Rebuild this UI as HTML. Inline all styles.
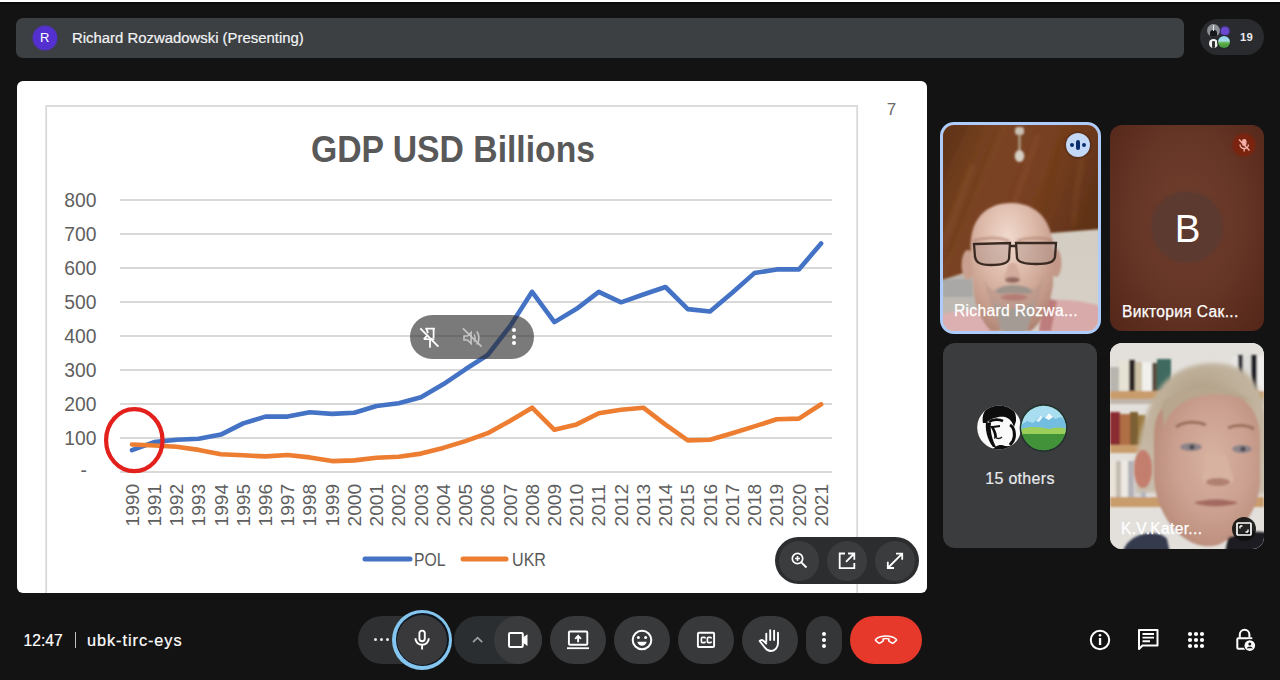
<!DOCTYPE html>
<html><head><meta charset="utf-8">
<style>
*{margin:0;padding:0;box-sizing:border-box}
html,body{width:1280px;height:680px;overflow:hidden;background:#131313;font-family:"Liberation Sans",sans-serif}
.abs{position:absolute}
#topline{left:0;top:0;width:1280px;height:4px;background:linear-gradient(#fdfdfd 0,#fdfdfd 1.6px,#0b0b0b 2.2px,#0b0b0b 3.6px,#131313 4px)}
#hdr{left:16px;top:18px;width:1168px;height:40px;background:#3c4043;border-radius:7px}
#hdr .av{left:16.5px;top:8px;width:24px;height:24px;border-radius:50%;background:#5530d0;box-shadow:0 0 1.5px 0.5px rgba(85,48,208,0.7);color:#fff;font-size:13px;line-height:24px;text-align:center;text-indent:0.5px}
#hdr .t{left:56px;top:11.5px;color:#f1f3f4;font-size:14.9px;white-space:nowrap;-webkit-text-stroke:0.2px #f1f3f4}
#pill{left:1200px;top:19px;width:64px;height:36px;border-radius:18px;background:#2a2b2e}
#pill .n{left:40px;top:11.6px;color:#e8eaed;font-size:11.3px;font-weight:bold;letter-spacing:0.2px}
#slide{left:17px;top:81px;width:910px;height:512px;background:#fff;border-radius:6px;overflow:hidden}
.tile{position:absolute;border-radius:12px;overflow:hidden}
.name{position:absolute;color:#fff;font-size:15.6px;white-space:nowrap;letter-spacing:0.32px;-webkit-text-stroke:0.25px #fff}
.btn{position:absolute;top:616px;height:48px;border-radius:24px;background:#37393b}
.bottomtxt{position:absolute;color:#fff;font-size:16px;white-space:nowrap}
</style></head><body>
<div id="topline" class="abs"></div>
<div id="hdr" class="abs">
  <div class="av abs">R</div>
  <div class="t abs">Richard Rozwadowski (Presenting)</div>
</div>
<div id="pill" class="abs">
  <div class="n abs">19</div>
</div>

<div id="slide" class="abs">
<svg width="910" height="512" viewBox="17 81 910 512" style="position:absolute;left:0;top:0">
<rect x="46.2" y="106" width="811" height="520" fill="none" stroke="#d9d9d9" stroke-width="1.8"/>
<text x="891.5" y="114.5" font-size="17" fill="#6b6b6b" text-anchor="middle">7</text>
<text x="311" y="162" font-size="37" font-weight="bold" fill="#595959" textLength="284" lengthAdjust="spacingAndGlyphs">GDP USD Billions</text>
<g stroke="#d9d9d9" stroke-width="1.8">
<line x1="120" y1="438.0" x2="832" y2="438.0"/>
<line x1="120" y1="404.0" x2="832" y2="404.0"/>
<line x1="120" y1="370.0" x2="832" y2="370.0"/>
<line x1="120" y1="336.0" x2="832" y2="336.0"/>
<line x1="120" y1="302.0" x2="832" y2="302.0"/>
<line x1="120" y1="268.0" x2="832" y2="268.0"/>
<line x1="120" y1="234.0" x2="832" y2="234.0"/>
<line x1="120" y1="200.0" x2="832" y2="200.0"/>
<line x1="120" y1="472.0" x2="832" y2="472.0"/>
</g>
<g font-size="19.3" fill="#5f5f5f" text-anchor="end">
<text x="96.5" y="445.0">100</text>
<text x="96.5" y="411.0">200</text>
<text x="96.5" y="377.0">300</text>
<text x="96.5" y="343.0">400</text>
<text x="96.5" y="309.0">500</text>
<text x="96.5" y="275.0">600</text>
<text x="96.5" y="241.0">700</text>
<text x="96.5" y="207.0">800</text>
<text x="87" y="477.0">-</text>
</g>
<g font-size="18.3" fill="#5f5f5f">
<text transform="translate(138.6,526.5) rotate(-90)" textLength="42.6" lengthAdjust="spacingAndGlyphs">1990</text>
<text transform="translate(160.8,526.5) rotate(-90)" textLength="42.6" lengthAdjust="spacingAndGlyphs">1991</text>
<text transform="translate(183.1,526.5) rotate(-90)" textLength="42.6" lengthAdjust="spacingAndGlyphs">1992</text>
<text transform="translate(205.3,526.5) rotate(-90)" textLength="42.6" lengthAdjust="spacingAndGlyphs">1993</text>
<text transform="translate(227.5,526.5) rotate(-90)" textLength="42.6" lengthAdjust="spacingAndGlyphs">1994</text>
<text transform="translate(249.8,526.5) rotate(-90)" textLength="42.6" lengthAdjust="spacingAndGlyphs">1995</text>
<text transform="translate(272.0,526.5) rotate(-90)" textLength="42.6" lengthAdjust="spacingAndGlyphs">1996</text>
<text transform="translate(294.2,526.5) rotate(-90)" textLength="42.6" lengthAdjust="spacingAndGlyphs">1997</text>
<text transform="translate(316.4,526.5) rotate(-90)" textLength="42.6" lengthAdjust="spacingAndGlyphs">1998</text>
<text transform="translate(338.7,526.5) rotate(-90)" textLength="42.6" lengthAdjust="spacingAndGlyphs">1999</text>
<text transform="translate(360.9,526.5) rotate(-90)" textLength="42.6" lengthAdjust="spacingAndGlyphs">2000</text>
<text transform="translate(383.1,526.5) rotate(-90)" textLength="42.6" lengthAdjust="spacingAndGlyphs">2001</text>
<text transform="translate(405.4,526.5) rotate(-90)" textLength="42.6" lengthAdjust="spacingAndGlyphs">2002</text>
<text transform="translate(427.6,526.5) rotate(-90)" textLength="42.6" lengthAdjust="spacingAndGlyphs">2003</text>
<text transform="translate(449.8,526.5) rotate(-90)" textLength="42.6" lengthAdjust="spacingAndGlyphs">2004</text>
<text transform="translate(472.1,526.5) rotate(-90)" textLength="42.6" lengthAdjust="spacingAndGlyphs">2005</text>
<text transform="translate(494.3,526.5) rotate(-90)" textLength="42.6" lengthAdjust="spacingAndGlyphs">2006</text>
<text transform="translate(516.5,526.5) rotate(-90)" textLength="42.6" lengthAdjust="spacingAndGlyphs">2007</text>
<text transform="translate(538.7,526.5) rotate(-90)" textLength="42.6" lengthAdjust="spacingAndGlyphs">2008</text>
<text transform="translate(561.0,526.5) rotate(-90)" textLength="42.6" lengthAdjust="spacingAndGlyphs">2009</text>
<text transform="translate(583.2,526.5) rotate(-90)" textLength="42.6" lengthAdjust="spacingAndGlyphs">2010</text>
<text transform="translate(605.4,526.5) rotate(-90)" textLength="42.6" lengthAdjust="spacingAndGlyphs">2011</text>
<text transform="translate(627.7,526.5) rotate(-90)" textLength="42.6" lengthAdjust="spacingAndGlyphs">2012</text>
<text transform="translate(649.9,526.5) rotate(-90)" textLength="42.6" lengthAdjust="spacingAndGlyphs">2013</text>
<text transform="translate(672.1,526.5) rotate(-90)" textLength="42.6" lengthAdjust="spacingAndGlyphs">2014</text>
<text transform="translate(694.4,526.5) rotate(-90)" textLength="42.6" lengthAdjust="spacingAndGlyphs">2015</text>
<text transform="translate(716.6,526.5) rotate(-90)" textLength="42.6" lengthAdjust="spacingAndGlyphs">2016</text>
<text transform="translate(738.8,526.5) rotate(-90)" textLength="42.6" lengthAdjust="spacingAndGlyphs">2017</text>
<text transform="translate(761.0,526.5) rotate(-90)" textLength="42.6" lengthAdjust="spacingAndGlyphs">2018</text>
<text transform="translate(783.3,526.5) rotate(-90)" textLength="42.6" lengthAdjust="spacingAndGlyphs">2019</text>
<text transform="translate(805.5,526.5) rotate(-90)" textLength="42.6" lengthAdjust="spacingAndGlyphs">2020</text>
<text transform="translate(827.7,526.5) rotate(-90)" textLength="42.6" lengthAdjust="spacingAndGlyphs">2021</text>
</g>
<polyline points="132.0,450.2 154.2,442.1 176.5,439.7 198.7,438.7 220.9,434.6 243.2,423.4 265.4,416.6 287.6,416.6 309.8,412.2 332.1,413.9 354.3,412.8 376.5,406.0 398.8,403.3 421.0,397.2 443.2,384.3 465.4,369.3 487.7,355.0 509.9,326.5 532.1,291.8 554.4,322.1 576.6,308.8 598.8,291.8 621.1,302.3 643.3,294.5 665.5,287.0 687.8,309.1 710.0,311.5 732.2,292.8 754.4,273.1 776.7,269.4 798.9,269.4 821.1,243.5" fill="none" stroke="#4472c4" stroke-width="4.6" stroke-linejoin="round" stroke-linecap="round"/>
<polyline points="132.0,444.5 154.2,445.5 176.5,446.8 198.7,449.9 220.9,454.3 243.2,455.3 265.4,456.4 287.6,455.0 309.8,457.4 332.1,461.1 354.3,460.4 376.5,457.7 398.8,456.7 421.0,453.6 443.2,447.9 465.4,441.1 487.7,433.2 509.9,421.0 532.1,407.7 554.4,429.8 576.6,424.4 598.8,413.2 621.1,409.8 643.3,407.7 665.5,424.7 687.8,440.4 710.0,439.7 732.2,433.2 754.4,426.4 776.7,419.3 798.9,418.6 821.1,404.3" fill="none" stroke="#ed7d31" stroke-width="4.6" stroke-linejoin="round" stroke-linecap="round"/>
<ellipse cx="134.3" cy="440.2" rx="28.2" ry="31" fill="none" stroke="#e3201b" stroke-width="4.2"/>
<line x1="365" y1="559" x2="410" y2="559" stroke="#4472c4" stroke-width="5" stroke-linecap="round"/>
<text x="414" y="566" font-size="18.5" fill="#595959" textLength="31.5" lengthAdjust="spacingAndGlyphs">POL</text>
<line x1="463" y1="559" x2="506" y2="559" stroke="#ed7d31" stroke-width="5" stroke-linecap="round"/>
<text x="512" y="566" font-size="18.5" fill="#595959" textLength="34" lengthAdjust="spacingAndGlyphs">UKR</text>
</svg>
</div>

<!-- popover on slide -->
<div class="abs" style="left:410px;top:315px;width:124px;height:44px;border-radius:22px;background:rgba(40,40,40,0.62)">
  <svg class="abs" style="left:9px;top:10px" width="24" height="24" viewBox="0 0 24 24"><path d="M6.3 3.7h9.6M14.6 3.7v9.4M4.8 14.2h10.5M11 14.2v8.6M7.4 3.7l1.6 4.4M4.8 14.2l3.2-3.4" fill="none" stroke="#fff" stroke-width="1.8"/><path d="M1.3 3.4l18.1 18.2" stroke="#fff" stroke-width="1.9"/></svg>
  <svg class="abs" style="left:50px;top:10px" width="24" height="24" viewBox="0 0 24 24"><path d="M4 11h3.5l3.6-3.6v11.2L7.5 15H4z" fill="none" stroke="#c4c4c4" stroke-width="1.6"/><path d="M14 9.5c1.5 1.3 1.5 5.7 0 7M16.6 6.5c3 2.6 3 10.4 0 13" fill="none" stroke="#c4c4c4" stroke-width="1.6"/><path d="M2.9 3.4l18.7 18.2" stroke="#c4c4c4" stroke-width="1.7"/></svg>
  <div class="abs" style="left:102px;top:13px;width:4px;height:4px;border-radius:50%;background:#fff"></div>
  <div class="abs" style="left:102px;top:20px;width:4px;height:4px;border-radius:50%;background:#fff"></div>
  <div class="abs" style="left:102px;top:26px;width:4px;height:4px;border-radius:50%;background:#fff"></div>
</div>
<!-- zoom controls -->
<div class="abs" style="left:775px;top:537px;width:144px;height:47px;border-radius:24px;background:#2c2d2f">
  <div class="abs" style="left:4px;top:3.5px;width:40px;height:40px;border-radius:50%;background:#3b3c3e"></div>
  <div class="abs" style="left:52px;top:3.5px;width:40px;height:40px;border-radius:50%;background:#3b3c3e"></div>
  <div class="abs" style="left:100px;top:3.5px;width:40px;height:40px;border-radius:50%;background:#3b3c3e"></div>
  <svg class="abs" style="left:16px;top:15px" width="18" height="18" viewBox="0 0 18 18"><circle cx="6.5" cy="6.5" r="5.2" fill="none" stroke="#fff" stroke-width="1.7"/><path d="M6.5 4v5M4 6.5h5" stroke="#fff" stroke-width="1.6"/><path d="M10.3 10.3l5.2 5.2" stroke="#fff" stroke-width="1.9"/></svg>
  <svg class="abs" style="left:63px;top:15px" width="18" height="18" viewBox="0 0 18 18"><path d="M7 1.5H1.7v14.6h14.6V11" fill="none" stroke="#fff" stroke-width="1.8"/><path d="M10 1.5h6.3v6.3M16.3 1.5L8 9.8" fill="none" stroke="#fff" stroke-width="1.8"/></svg>
  <svg class="abs" style="left:111px;top:15px" width="18" height="18" viewBox="0 0 18 18"><path d="M10 1.6h6.2v6.2M16.2 1.6L1.8 16M1.8 9.8v6.2H8" fill="none" stroke="#fff" stroke-width="1.8"/></svg>
</div>

<!-- participant count pill avatars -->
<div class="abs" style="left:1206.5px;top:23.6px;width:13.6px;height:13.6px;border-radius:50%;background:#8d9096;overflow:hidden">
  <div class="abs" style="left:3.5px;top:6px;width:6.5px;height:9px;border-radius:3px 3px 0 0;background:#15171b"></div>
  <div class="abs" style="left:6.2px;top:1.5px;width:1.2px;height:6px;background:#e8e8e8"></div>
</div>
<div class="abs" style="left:1221px;top:27px;width:7.6px;height:7.6px;border-radius:50%;background:#6a48d0;box-shadow:0 0 2px 1px rgba(90,60,200,0.6)"></div>
<div class="abs" style="left:1209.3px;top:39px;width:8.8px;height:8.8px;border-radius:50%;background:#f2f2f2;overflow:hidden">
  <div class="abs" style="left:3px;top:2px;width:3px;height:7px;border-radius:1px;background:#333"></div>
</div>
<div class="abs" style="left:1218.2px;top:36px;width:12px;height:12px;border-radius:50%;background:linear-gradient(#8fd0ee 0%,#a8dcec 40%,#60b048 58%,#3e9038 100%);box-shadow:0 0 0 1px #1f2a2a"></div>

<!-- tile 1: Richard -->
<div class="tile" style="left:940px;top:122px;width:161px;height:212px;border:3px solid #aecbfa;border-radius:14px;background:#d2ccc2">
  <svg class="abs" style="left:0;top:0" width="155" height="206" viewBox="0 0 155 206">
    <defs>
      <filter id="tb1" x="-30%" y="-30%" width="160%" height="160%"><feGaussianBlur stdDeviation="1.1"/></filter>
      <filter id="tb2" x="-30%" y="-30%" width="160%" height="160%"><feGaussianBlur stdDeviation="2.5"/></filter>
      <linearGradient id="wood1" x1="0" y1="0" x2="1" y2="0.4">
        <stop offset="0" stop-color="#5c3016"/><stop offset="0.35" stop-color="#7a4422"/><stop offset="0.65" stop-color="#784020"/><stop offset="1" stop-color="#603218"/>
      </linearGradient>
      <radialGradient id="skin1" cx="0.45" cy="0.28" r="0.75">
        <stop offset="0" stop-color="#f0dace"/><stop offset="0.4" stop-color="#dfbcac"/><stop offset="0.8" stop-color="#c49a8a"/><stop offset="1" stop-color="#b08474"/>
      </radialGradient>
      <linearGradient id="wall1" x1="0" y1="0" x2="0" y2="1"><stop offset="0" stop-color="#cfc9be"/><stop offset="1" stop-color="#d6d0c6"/></linearGradient>
    </defs>
    <rect width="155" height="206" fill="url(#wall1)"/>
    <rect x="0" y="150" width="45" height="56" fill="#bdb9b2"/>
    <rect x="0" y="154" width="30" height="18" fill="#a9a8a6" filter="url(#tb1)"/>
    <polygon points="-5,-5 160,-5 160,104 108,108 28,146 -5,156" fill="url(#wood1)" filter="url(#tb1)"/>
    <g stroke-width="3" filter="url(#tb2)" stroke-opacity="0.35">
      <path d="M20,0 L-10,60" stroke="#4e2810"/>
      <path d="M55,0 L5,130" stroke="#5a3012"/>
      <path d="M95,10 L60,110" stroke="#a26838"/>
      <path d="M120,0 L100,90" stroke="#5a3012"/>
      <path d="M140,20 L130,100" stroke="#a06430"/>
      <path d="M30,40 L0,120" stroke="#a36a38"/>
    </g>
    <g filter="url(#tb1)">
      <rect x="72" y="2" width="9" height="8" rx="3" fill="#c9c0b4"/>
      <rect x="75.5" y="9" width="2" height="18" fill="#b9ae9c"/>
      <ellipse cx="76.5" cy="31" rx="4.8" ry="6" fill="#d6cfc4"/>
    </g>
    <g filter="url(#tb1)">
      <path d="M-5,190 Q25,182 55,186 L55,210 L-5,210z" fill="#dcb0b0"/>
      <path d="M96,176 Q130,172 160,182 L160,210 L96,210z" fill="#d9aaaa"/>
      <path d="M102,172 L114,176 L108,206 L96,206z" fill="#b06a6a" opacity="0.7"/>
    </g>
    <g filter="url(#tb1)">
      <ellipse cx="25" cy="140" rx="6.5" ry="15" fill="#c9a090"/>
      <ellipse cx="113" cy="138" rx="5.5" ry="14" fill="#c39888"/>
      <path d="M28,128 C25,96 42,78 68,78 C94,78 111,96 110,128 L110,160 C107,182 98,198 88,206 L48,206 C38,196 31,180 30,160z" fill="url(#skin1)"/>
      <path d="M40,150 C44,170 50,186 56,206 L84,206 C92,186 98,170 100,150 C96,165 90,168 70,168 C50,168 44,165 40,150z" fill="#b49488" opacity="0.55"/>
      <path d="M52,166 C58,158 82,158 90,166 C86,170 78,168 70,168 C62,168 56,170 52,166z" fill="#9e948c"/>
      <path d="M50,176 C54,186 58,206 60,210 L82,210 C86,200 90,186 92,176 C86,182 78,184 70,184 C62,184 56,182 50,176z" fill="#a49c94"/>
      <path d="M57,172 C64,168 78,168 85,172 C80,177 62,177 57,172z" fill="#b47c74"/>
      <path d="M66,138 L61,153 C64,158 75,158 78,153 L73,138z" fill="#d4ac9e"/>
      <ellipse cx="69.5" cy="155" rx="7.5" ry="3" fill="#946a60"/>
      <path d="M30,116 C42,112 56,112 66,116 M74,116 C86,112 100,112 110,116" stroke="#b08070" stroke-width="3" fill="none" opacity="0.6"/>
    </g>
    <g fill="rgba(160,135,128,0.35)" stroke="#3a2a22" stroke-width="2.3">
      <path d="M31,119 L67,118 L66,134 C65,138 60,140 48,140 C36,140 33,137 32,132z"/>
      <path d="M73,118 L113,118 L112,132 C111,137 106,139 93,139 C80,139 75,137 74,133z"/>
    </g>
    <path d="M66,121 L74,121" stroke="#3a2a24" stroke-width="2.5"/>
  </svg>
  <div class="name" style="left:11px;top:177px">Richard Rozwa...</div>
  <div class="abs" style="left:123px;top:8px;width:24px;height:24px;border-radius:50%;background:#c4d9f8;box-shadow:0 0 2px 1px rgba(40,20,10,0.45)">
    <div class="abs" style="left:4.3px;top:10.1px;width:3.9px;height:3.9px;border-radius:50%;background:#0b2f6c"></div>
    <div class="abs" style="left:10.1px;top:7.3px;width:3.8px;height:9.4px;border-radius:2px;background:#0b2f6c"></div>
    <div class="abs" style="left:15.9px;top:10.1px;width:3.9px;height:3.9px;border-radius:50%;background:#0b2f6c"></div>
  </div>
</div>

<!-- tile 2: Viktoriya -->
<div class="tile" style="left:1110px;top:125px;width:154px;height:206px;background:radial-gradient(ellipse at 50% 45%,#72402e 0%,#643425 55%,#532619 100%)">
  <div class="abs" style="left:42px;top:67px;width:70px;height:70px;border-radius:50%;background:#5d3a30;box-shadow:0 0 4px 1px #5d3a30;color:#fff;font-size:38.5px;line-height:74.5px;text-align:center;text-indent:1px">B</div>
  <div class="name" style="left:12px;top:178px">Виктория Сак...</div>
  <div class="abs" style="left:122.5px;top:8.5px;width:22px;height:22px;border-radius:50%;background:#7a2410;box-shadow:0 0 3px 1px rgba(122,36,16,0.6)">
    <svg class="abs" style="left:3px;top:3px" width="16" height="16" viewBox="0 0 16 16"><rect x="6" y="2" width="4.5" height="7" rx="2.2" fill="#f4b0a8"/><path d="M4 7.5c0 2.5 2 4 4.2 4s4.2-1.5 4.2-4M8.2 11.5v3" fill="none" stroke="#f4b0a8" stroke-width="1.4"/><path d="M3 2.5l10.5 11" stroke="#f4b0a8" stroke-width="1.5"/></svg>
  </div>
</div>

<!-- tile 3: 15 others -->
<div class="tile" style="left:943px;top:343px;width:154px;height:205px;background:#3b3c3e">
  <svg class="abs" style="left:0;top:0" width="154" height="205" viewBox="0 0 154 205">
    <defs>
      <clipPath id="av1"><circle cx="56.2" cy="84.5" r="22"/></clipPath>
      <clipPath id="av2"><circle cx="100.6" cy="85" r="22.2"/></clipPath>
      <filter id="ab" x="-20%" y="-20%" width="140%" height="140%"><feGaussianBlur stdDeviation="0.5"/></filter>
    </defs>
    <circle cx="56.2" cy="84.5" r="22" fill="#fafafa"/>
    <g clip-path="url(#av1)" filter="url(#ab)">
      <path d="M40,80 C38,68 46,61 57,61 C68,61 74,68 73,78 L71,84 C69,78 66,75 62,74 C56,73 48,75 43,80z" fill="#0a0a0a"/>
      <path d="M43,79 C42,86 44,96 50,104 L53,104 C49,96 47,88 48,80z" fill="#0e0e0e"/>
      <path d="M46,79 C50,76 56,76 60,78" stroke="#111" stroke-width="2.6" fill="none"/>
      <path d="M47,83 C50,88 52,92 51,96 L54,94 C54,90 52,86 50,83z" fill="#111"/>
      <path d="M50,84 L57,83" stroke="#111" stroke-width="2"/>
      <path d="M52,94 C54,96 57,96 59,94" stroke="#222" stroke-width="1.5" fill="none"/>
      <path d="M67,82 C71,84 73,92 70,98 L67,102" stroke="#0e0e0e" stroke-width="3" fill="none"/>
      <path d="M46,112 C50,104 56,100 62,103 C68,104 72,100 78,101 L78,112z" fill="#0c0c0c"/>
    </g>
    <circle cx="100.6" cy="85" r="24" fill="#263232"/>
    <g clip-path="url(#av2)">
      <rect x="78" y="62" width="46" height="46" fill="#44963a"/>
      <rect x="78" y="62" width="46" height="24" fill="#a9def0"/>
      <path d="M78,82 L84,78 L90,80 L98,72 L102,75 L106,70 L112,76 L118,74 L124,79 L124,90 L78,90z" fill="#72bde0"/>
      <path d="M102,75 L106,70 L110,74 L106,77z" fill="#f4fbff"/>
      <path d="M93,78 L98,72 L100,74 L96,79z" fill="#dff2fa"/>
      <path d="M78,86 C88,83 98,84 106,86 C112,84 118,84 124,86 L124,92 L78,92z" fill="#9ccf5a"/>
      <rect x="78" y="91" width="46" height="17" fill="#42923a"/>
    </g>
  </svg>
  <div class="abs" style="left:0;top:127px;width:154px;text-align:center;color:#e8eaed;font-size:16px;letter-spacing:0.3px;-webkit-text-stroke:0.2px #e8eaed">15 others</div>
</div>

<!-- tile 4: K.V.Kater -->
<div class="tile" style="left:1110px;top:343px;width:154px;height:206px;background:#e2dfdb">
  <svg class="abs" style="left:0;top:0" width="154" height="206" viewBox="0 0 154 206">
    <defs>
      <filter id="kb1" x="-30%" y="-30%" width="160%" height="160%"><feGaussianBlur stdDeviation="0.9"/></filter>
      <filter id="kb2" x="-30%" y="-30%" width="160%" height="160%"><feGaussianBlur stdDeviation="2.2"/></filter>
      <radialGradient id="skin4" cx="0.55" cy="0.45" r="0.7">
        <stop offset="0" stop-color="#d8b2a2"/><stop offset="0.5" stop-color="#cba090"/><stop offset="0.85" stop-color="#ba8c7a"/><stop offset="1" stop-color="#ab7e6c"/>
      </radialGradient>
      <radialGradient id="hair4" cx="0.5" cy="0.35" r="0.65">
        <stop offset="0" stop-color="#a89680"/><stop offset="0.5" stop-color="#bfb09a"/><stop offset="1" stop-color="#c8bcaa"/>
      </radialGradient>
    </defs>
    <rect width="154" height="206" fill="#e3e0dc"/>
    <g filter="url(#kb1)">
      <rect x="0" y="24" width="9" height="24" fill="#b8b4ae"/>
      <rect x="9" y="18" width="10" height="30" fill="#e6e2d4"/>
      <rect x="19" y="17" width="6" height="31" fill="#2e2628"/>
      <rect x="25" y="19" width="7" height="29" fill="#cfc2a8"/>
      <rect x="32" y="19" width="10" height="29" fill="#f2f0ec"/>
      <rect x="42" y="20" width="5" height="28" fill="#5a5040"/>
      <rect x="47" y="16" width="14" height="32" fill="#3f6a60"/>
      <rect x="122" y="14" width="6" height="34" fill="#e8e6e4"/>
      <rect x="128" y="12" width="5" height="36" fill="#3a3a40"/>
      <rect x="133" y="13" width="8" height="35" fill="#dedcd8"/>
      <rect x="141" y="12" width="6" height="36" fill="#22242a"/>
      <rect x="147" y="13" width="7" height="35" fill="#f0eeec"/>
      <rect x="0" y="48" width="154" height="8" fill="#c99c6c"/>
      <rect x="0" y="56" width="154" height="5" fill="#bfb5aa"/>
      <rect x="0" y="69" width="10" height="34" fill="#8a2a30"/>
      <rect x="10" y="71" width="10" height="32" fill="#b06e44"/>
      <rect x="20" y="69" width="8" height="34" fill="#7c5e32"/>
      <rect x="28" y="72" width="8" height="31" fill="#9a7a40"/>
      <rect x="0" y="102" width="154" height="8" fill="#c99c6c"/>
      <rect x="0" y="117" width="6" height="37" fill="#e8e2d8"/>
      <rect x="6" y="118" width="5" height="36" fill="#c4bcb0"/>
      <rect x="11" y="117" width="7" height="37" fill="#ece8e2"/>
      <rect x="18" y="118" width="6" height="36" fill="#b4b2b8"/>
      <rect x="24" y="117" width="7" height="37" fill="#d8d6d8"/>
      <rect x="31" y="118" width="5" height="36" fill="#a8b4c8"/>
      <rect x="36" y="118" width="6" height="36" fill="#e4e4e4"/>
      <rect x="0" y="154" width="154" height="10" fill="#c99c6c"/>
      <rect x="140" y="95" width="14" height="58" fill="#d8cfc4"/>
    </g>
    <g filter="url(#kb2)">
      <path d="M26,150 C24,110 32,66 54,40 C72,20 108,14 134,28 C150,40 158,66 158,96 L158,150z" fill="url(#hair4)"/>
    </g>
    <g filter="url(#kb1)">
      <path d="M44,92 C44,62 66,46 98,46 C130,46 150,64 150,96 L150,140 C148,168 130,192 108,202 C92,206 78,200 66,188 C54,176 46,158 44,136z" fill="url(#skin4)"/>
      <path d="M52,60 C70,42 120,36 146,62 C135,52 100,48 80,56 C66,62 58,72 54,84z" fill="#b8a68e"/>
      <ellipse cx="33" cy="126" rx="9" ry="19" fill="#c47e6e"/>
      <path d="M66,84 C74,78 88,78 96,82" stroke="#9a6e5a" stroke-width="3" fill="none"/>
      <path d="M118,85 C126,81 138,82 144,86" stroke="#9a6e5a" stroke-width="3" fill="none"/>
      <ellipse cx="81" cy="104" rx="11" ry="4" fill="#8c8488"/><circle cx="82" cy="104" r="2.6" fill="#4a4a52"/>
      <ellipse cx="132" cy="106" rx="10" ry="4" fill="#8c8488"/><circle cx="133" cy="106" r="2.6" fill="#4a4a52"/>
      <path d="M96,112 L92,138 C96,144 118,144 124,138 L116,112z" fill="#d8b2a0"/>
      <ellipse cx="108" cy="139" rx="12" ry="4" fill="#b08070"/>
      <path d="M84,160 C96,155 116,155 128,160 C118,164 96,165 84,160z" fill="#a46a62"/>
      <path d="M12,210 C16,198 26,191 40,190 C48,190 54,192 57,196 L60,210z" fill="#353a4e"/>
      <path d="M118,195 C135,188 150,188 160,190 L160,210 L115,210z" fill="#1e1e22"/>
    </g>
  </svg>
  <div class="name" style="left:11px;top:177px">K.V.Kater...</div>
  <div class="abs" style="left:121.5px;top:174px;width:24px;height:24px;border-radius:50%;background:rgba(15,15,15,0.9)">
    <svg class="abs" style="left:4px;top:5px" width="16" height="14" viewBox="0 0 16 14"><rect x="1" y="1" width="14" height="12" rx="1" fill="none" stroke="#fff" stroke-width="1.7"/><path d="M4 4v2.5M4 4h2.5M12 10V7.5M12 10H9.5" stroke="#fff" stroke-width="1.4"/></svg>
  </div>
</div>

<!-- bottom bar -->
<div class="bottomtxt" style="left:23.6px;top:631.5px;font-size:15.6px;-webkit-text-stroke:0.2px #fff">12:47</div>
<div class="abs" style="left:74.5px;top:632px;width:1.5px;height:16px;background:#bdc1c6"></div>
<div class="bottomtxt" style="left:87px;top:630.5px;font-size:16.3px;letter-spacing:0.95px;-webkit-text-stroke:0.2px #fff">ubk-tirc-eys</div>

<!-- mic group -->
<div class="btn" style="left:358px;width:84px;background:#2e3032"></div>
<div class="abs" style="left:392.2px;top:609.8px;width:60px;height:60px;border-radius:50%;background:#84c6ef"></div>
<div class="abs" style="left:395.7px;top:613.3px;width:53px;height:53px;border-radius:50%;background:#0e1620"></div>
<div class="abs" style="left:397.2px;top:614.8px;width:50px;height:50px;border-radius:50%;background:#39393b"></div>
<div class="abs" style="left:373.5px;top:638px;width:3.4px;height:3.4px;border-radius:50%;background:#e8eaed"></div>
<div class="abs" style="left:379.5px;top:638px;width:3.4px;height:3.4px;border-radius:50%;background:#e8eaed"></div>
<div class="abs" style="left:385.5px;top:638px;width:3.4px;height:3.4px;border-radius:50%;background:#e8eaed"></div>
<svg class="abs" style="left:412px;top:629px" width="20" height="22" viewBox="0 0 20 22"><rect x="7.4" y="1.6" width="5.4" height="10.6" rx="2.7" fill="none" stroke="#fff" stroke-width="1.9"/><path d="M3.4 9.3c0 3.9 3 6.5 6.7 6.5s6.7-2.6 6.7-6.5M10.1 15.8v4.6" fill="none" stroke="#fff" stroke-width="1.9"/></svg>

<!-- video group -->
<div class="btn" style="left:454px;width:88px;background:#2b2e31"></div>
<div class="btn" style="left:494px;width:48px;background:#3a3b3d"></div>
<svg class="abs" style="left:471px;top:635px" width="13" height="9" viewBox="0 0 13 9"><path d="M2 7.2l4.6-4.6 4.6 4.6" fill="none" stroke="#9aa0a6" stroke-width="1.7"/></svg>
<svg class="abs" style="left:507px;top:631px" width="22" height="18" viewBox="0 0 22 18"><rect x="2" y="2" width="13.8" height="14" rx="1.2" fill="none" stroke="#fff" stroke-width="2"/><path d="M15.5 6.8l5-3.6v11.8l-5-3.6z" fill="#fff"/></svg>

<!-- present -->
<div class="btn" style="left:550px;width:56px"></div>
<svg class="abs" style="left:565px;top:629px" width="26" height="22" viewBox="0 0 26 22"><rect x="3.9" y="2.5" width="18.4" height="13.3" rx="1" fill="none" stroke="#fff" stroke-width="1.9"/><path d="M2 19.2h22" stroke="#fff" stroke-width="1.8"/><path d="M13.1 13.2V7M10.2 9.8l2.9-2.9 2.9 2.9" fill="none" stroke="#fff" stroke-width="1.9"/></svg>
<!-- emoji -->
<div class="btn" style="left:614px;width:56px"></div>
<svg class="abs" style="left:631px;top:629px" width="22" height="22" viewBox="0 0 22 22"><circle cx="11" cy="11" r="9.3" fill="none" stroke="#fff" stroke-width="2"/><circle cx="7.4" cy="8.6" r="1.5" fill="#fff"/><circle cx="14.6" cy="8.6" r="1.5" fill="#fff"/><path d="M6.3 12.8h9.4c-0.6 2.6-2.6 4-4.7 4s-4.1-1.4-4.7-4z" fill="#fff"/></svg>
<!-- cc -->
<div class="btn" style="left:678px;width:56px"></div>
<svg class="abs" style="left:696px;top:631px" width="20" height="18" viewBox="0 0 20 18"><rect x="1.9" y="1.8" width="16.2" height="14.2" rx="1" fill="none" stroke="#fff" stroke-width="1.9"/><path d="M9.3 7.4c0-.6-.4-1-1-1H6.4c-.6 0-1 .4-1 1v3.2c0 .6.4 1 1 1h1.9c.6 0 1-.4 1-1M15.3 7.4c0-.6-.4-1-1-1h-1.9c-.6 0-1 .4-1 1v3.2c0 .6.4 1 1 1h1.9c.6 0 1-.4 1-1" fill="none" stroke="#fff" stroke-width="1.7"/></svg>
<!-- hand -->
<div class="btn" style="left:742px;width:56px"></div>
<svg class="abs" style="left:757px;top:628px" width="24" height="24" viewBox="0 0 24 24"><path d="M9.3 13.5V5.6M13.2 12V2.2M17.1 12V2.6M21 13V4.8V15c0 4.5-3 8-7 8-3 0-4.8-1.5-6.2-3.5L2.6 13c1-1.2 2.7-1.2 3.8-.2l2.9 2.8" fill="none" stroke="#fff" stroke-width="1.9" stroke-linejoin="round" stroke-linecap="round"/></svg>
<!-- more -->
<div class="btn" style="left:806px;width:36px;background:#353638"></div>
<div class="abs" style="left:822px;top:631.5px;width:4.2px;height:4.2px;border-radius:50%;background:#fff"></div>
<div class="abs" style="left:822px;top:637.7px;width:4.2px;height:4.2px;border-radius:50%;background:#fff"></div>
<div class="abs" style="left:822px;top:643.8px;width:4.2px;height:4.2px;border-radius:50%;background:#fff"></div>
<!-- hangup -->
<div class="btn" style="left:850px;width:72px;background:#e6392c"></div>
<svg class="abs" style="left:873px;top:634px" width="26" height="12.6" viewBox="0 0 26 14" preserveAspectRatio="none"><path d="M13 2.2c-4 0-7.6 1.3-10 3.4-.6.5-.6 1.4 0 1.9l2.3 2.3c.5.5 1.3.5 1.8.1.7-.6 1.5-1 2.3-1.4.5-.2.8-.7.8-1.2V5.4c1-.3 1.9-.4 2.8-.4s1.8.1 2.8.4v1.9c0 .5.3 1 .8 1.2.8.4 1.6.8 2.3 1.4.5.4 1.3.4 1.8-.1l2.3-2.3c.5-.5.5-1.4 0-1.9-2.4-2.1-6-3.4-10-3.4z" fill="none" stroke="#fff" stroke-width="1.7"/></svg>

<!-- right icons -->
<svg class="abs" style="left:1088px;top:628px" width="24" height="24" viewBox="0 0 24 24"><circle cx="12" cy="12" r="9.2" fill="none" stroke="#fff" stroke-width="2"/><rect x="10.9" y="10" width="2.3" height="7" fill="#fff"/><circle cx="12" cy="7.3" r="1.3" fill="#fff"/></svg>
<svg class="abs" style="left:1136px;top:628px" width="24" height="24" viewBox="0 0 24 24"><path d="M3 2h18.5v15.5H6.5L3 21z" fill="none" stroke="#fff" stroke-width="2" stroke-linejoin="round"/><path d="M6.5 6h11.5M6.5 9.6h11.5M6.5 13.2h7.5" stroke="#fff" stroke-width="1.9"/></svg>
<svg class="abs" style="left:1184px;top:628px" width="24" height="24" viewBox="0 0 24 24"><g fill="#fff"><circle cx="6" cy="6" r="2.1"/><circle cx="12" cy="6" r="2.1"/><circle cx="18" cy="6" r="2.1"/><circle cx="6" cy="12" r="2.1"/><circle cx="12" cy="12" r="2.1"/><circle cx="18" cy="12" r="2.1"/><circle cx="6" cy="18" r="2.1"/><circle cx="12" cy="18" r="2.1"/><circle cx="18" cy="18" r="2.1"/></g></svg>
<svg class="abs" style="left:1233px;top:627px" width="26" height="26" viewBox="0 0 26 26"><path d="M6.8 10.5V7.6a4.8 4.8 0 0 1 9.6 0v2.9" fill="none" stroke="#fff" stroke-width="2"/><path d="M12.5 21.8H5.3c-.6 0-1-.4-1-1V12.2c0-.6.4-1 1-1h14" fill="none" stroke="#fff" stroke-width="2"/><circle cx="16.8" cy="18.6" r="6.3" fill="#131313"/><circle cx="16.8" cy="18.6" r="5.3" fill="#fff"/><circle cx="16.8" cy="17" r="1.5" fill="#131313"/><path d="M14.1 21.2c.8-1.5 4.6-1.5 5.4 0" fill="#131313" stroke="#131313" stroke-width="0.8"/></svg>

</body></html>
